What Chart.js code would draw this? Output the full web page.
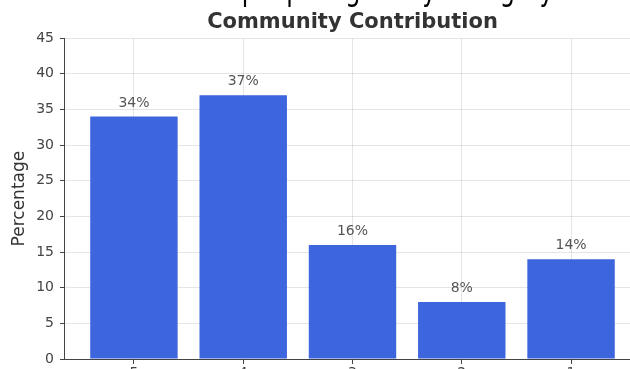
<!DOCTYPE html>
<html>
<head>
<meta charset="utf-8">
<script src="https://cdn.jsdelivr.net/npm/chart.js@4"></script>
<style>
    html, body { margin: 0; padding: 0; width: 630px; height: 369px; overflow: hidden; background: #fff; }
    #headline { position: absolute; left: 134px; top: -27px; font: 32px/32px "DejaVu Sans", sans-serif; color: #000; white-space: nowrap; transform: scaleX(0.75); transform-origin: 0 0; z-index: 2; }
    #wrap { position: absolute; left: 0; top: 0; width: 660px; height: 400px; }
</style>
</head>
<body>
<div id="headline">Share of people agree by Category</div>
<div id="wrap"><canvas id="community-chart" width="660" height="400"></canvas></div>
<script>
(function () {
    "use strict";

    // Chart data
    var categories = ["5", "4", "3", "2", "1"];
    var percentages = [34, 37, 16, 8, 14];
    var yMin = 0, yMax = 45, yStep = 5;

    var font = "DejaVu Sans";
    var barColor = "#3d65dd";
    var gridColor = "rgba(170, 170, 170, 0.3)";
    var axisColor = "#444";

    // Percent labels above each bar
    var valueLabels = {
        id: "valueLabels",
        afterDraw: function (chart) {
            var ctx = chart.ctx;
            var meta = chart.getDatasetMeta(0);
            ctx.save();
            ctx.font = "14px '" + font + "'";
            ctx.fillStyle = "#555";
            ctx.textAlign = "center";
            ctx.textBaseline = "alphabetic";
            meta.data.forEach(function (bar, i) {
                ctx.fillText(percentages[i] + "%", bar.x, bar.y - 10);
            });
            ctx.restore();
        }
    };

    var ctx1 = document.getElementById("community-chart").getContext("2d");
    var myChart1 = new Chart(ctx1, {
        type: "bar",
        data: {
            datasets: [{
                label: "Community Contribution",
                data: percentages.map(function (v, i) { return { x: i, y: v }; }),
                backgroundColor: barColor,
                barPercentage: 0.8,
                categoryPercentage: 1.0
            }]
        },
        options: {
            responsive: false,
            animation: false,
            devicePixelRatio: 1,
            layout: { padding: { left: 0, right: 19, top: 0, bottom: 0 } },
            plugins: {
                legend: { display: false },
                tooltip: { enabled: false },
                title: {
                    display: true,
                    fullSize: false,
                    text: "Community Contribution",
                    color: "#333",
                    font: { family: font, size: 21, weight: "bold" },
                    padding: { top: 10, bottom: 3 }
                }
            },
            scales: {
                x: {
                    type: "linear",
                    min: -0.64,
                    max: 4.64,
                    offset: false,
                    z: 1,
                    afterBuildTicks: function (scale) {
                        scale.ticks = categories.map(function (c, i) { return { value: i }; });
                    },
                    afterFit: function (scale) { scale.height = 41; },
                    ticks: {
                        autoSkip: false,
                        maxRotation: 0,
                        padding: 1,
                        color: axisColor,
                        font: { family: font, size: 14 },
                        callback: function (value) { return categories[value]; }
                    },
                    grid: { offset: false, color: gridColor, tickColor: axisColor, tickLength: 5 },
                    border: { color: axisColor, width: 1 }
                },
                y: {
                    min: yMin,
                    max: yMax,
                    z: 1,
                    afterFit: function (scale) { scale.width = 64; },
                    ticks: {
                        stepSize: yStep,
                        padding: 6,
                        color: axisColor,
                        font: { family: font, size: 14 }
                    },
                    grid: { color: gridColor, tickColor: axisColor, tickLength: 4 },
                    border: { color: axisColor, width: 1 },
                    title: {
                        display: true,
                        text: "Percentage",
                        color: "#333",
                        font: { family: font, size: 17 },
                        padding: { top: 9, bottom: 0 }
                    }
                }
            }
        },
        plugins: [valueLabels]
    });
})();
</script>
</body>
</html>
